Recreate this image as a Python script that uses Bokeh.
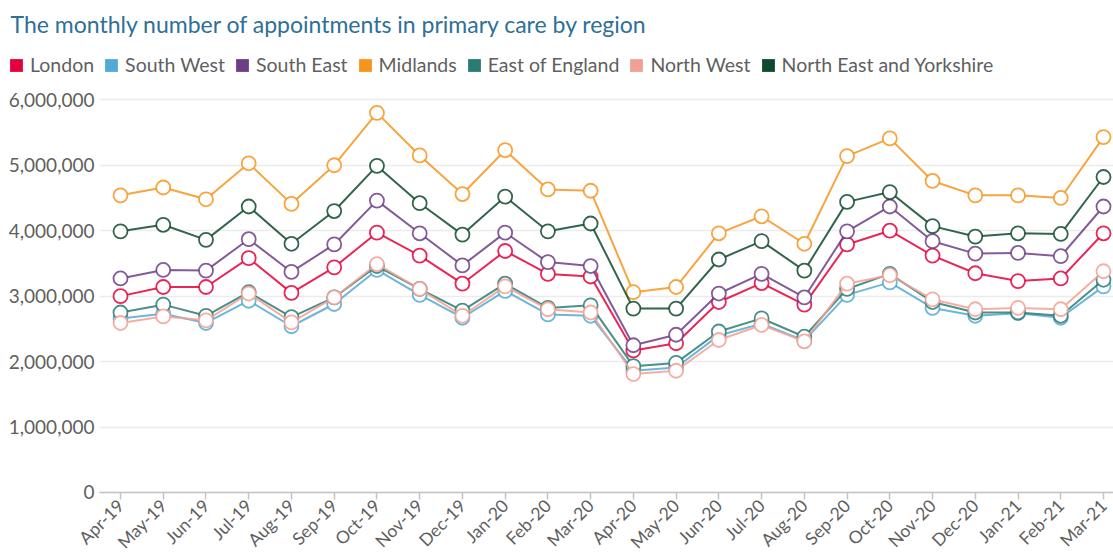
import math
from bokeh.plotting import figure
from bokeh.models import (Range1d, FixedTicker, NumeralTickFormatter, Legend, LegendItem,
                          Label, ColumnDataSource, Grid)
from bokeh.embed import file_html
from bokeh.resources import INLINE

months = ["Apr-19", "May-19", "Jun-19", "Jul-19", "Aug-19", "Sep-19", "Oct-19", "Nov-19",
          "Dec-19", "Jan-20", "Feb-20", "Mar-20", "Apr-20", "May-20", "Jun-20", "Jul-20",
          "Aug-20", "Sep-20", "Oct-20", "Nov-20", "Dec-20", "Jan-21", "Feb-21", "Mar-21"]

# values in millions of appointments
london = [3.00, 3.14, 3.14, 3.58, 3.05, 3.44, 3.97, 3.62, 3.19, 3.69, 3.34, 3.30,
          2.17, 2.28, 2.91, 3.20, 2.87, 3.79, 4.00, 3.62, 3.35, 3.23, 3.27, 3.96]
south_west = [2.66, 2.73, 2.59, 2.93, 2.54, 2.88, 3.40, 3.02, 2.67, 3.08, 2.72, 2.70,
              1.86, 1.91, 2.40, 2.58, 2.32, 3.02, 3.21, 2.82, 2.70, 2.74, 2.67, 3.15]
south_east = [3.27, 3.40, 3.39, 3.87, 3.37, 3.79, 4.46, 3.96, 3.47, 3.97, 3.52, 3.46,
              2.25, 2.41, 3.04, 3.34, 2.98, 3.99, 4.37, 3.84, 3.65, 3.66, 3.61, 4.37]
midlands = [4.54, 4.66, 4.48, 5.03, 4.41, 5.00, 5.80, 5.15, 4.56, 5.23, 4.63, 4.61,
            3.06, 3.14, 3.96, 4.22, 3.80, 5.14, 5.41, 4.76, 4.54, 4.54, 4.50, 5.43]
east_of_england = [2.75, 2.87, 2.70, 3.06, 2.68, 2.98, 3.46, 3.11, 2.78, 3.19, 2.82, 2.86,
                   1.93, 1.98, 2.46, 2.66, 2.38, 3.11, 3.34, 2.91, 2.75, 2.75, 2.70, 3.25]
north_west = [2.59, 2.69, 2.63, 3.04, 2.60, 2.98, 3.49, 3.11, 2.70, 3.15, 2.80, 2.75,
              1.81, 1.86, 2.33, 2.56, 2.31, 3.19, 3.32, 2.95, 2.80, 2.82, 2.80, 3.38]
north_east_yorks = [3.99, 4.09, 3.86, 4.37, 3.80, 4.30, 4.99, 4.42, 3.94, 4.52, 3.99, 4.11,
                    2.81, 2.81, 3.56, 3.84, 3.39, 4.44, 4.59, 4.07, 3.91, 3.96, 3.95, 4.82]

regions = ["London", "South West", "South East", "Midlands", "East of England",
           "North West", "North East and Yorkshire"]
series = [london, south_west, south_east, midlands, east_of_england, north_west, north_east_yorks]
colors = ["#E4003B", "#52A9D3", "#6E3D87", "#F7941D", "#2A7B74", "#F2A093", "#0F4A2E"]
y_ticks = [0, 1e6, 2e6, 3e6, 4e6, 5e6, 6e6]
title_text = "The monthly number of appointments in primary care by region"

FONT = "Lato"
TEXT = "#5f5f5f"
W, H = 1113, 553
X0, X1 = -0.491, 23.234          # extent of the chart body in x

p = figure(width=W, height=H, x_range=Range1d(-2.808, X1), y_range=Range1d(-0.932e6, 7.517e6),
           min_border=0, toolbar_location=None, output_backend="svg")
p.outline_line_color = None
p.xgrid.visible = False
p.ygrid.grid_line_color = "#ececec"
p.ygrid.grid_line_width = 1.5
p.ygrid.ticker = FixedTicker(ticks=y_ticks)
if "cross_bounds" in Grid.properties():
    p.ygrid.cross_bounds = (X0, X1)

x = list(range(len(months)))
for name, vals, c in zip(regions, series, colors):
    src = ColumnDataSource(dict(x=x, y=[v * 1e6 for v in vals]))
    p.line("x", "y", source=src, line_color=c, line_width=2, line_alpha=0.85)
    p.scatter("x", "y", source=src, size=14, fill_color="white", line_color=c,
              line_width=1.8, line_alpha=0.85)

# title
p.add_layout(Label(x=10, y=H - 23, x_units="screen", y_units="screen", text=title_text,
                   text_baseline="middle", text_font_size="23px", text_color="#2E7096",
                   text_font=FONT))

# legend with square swatches
nan = float("nan")
items = []
for name, c in zip(regions, colors):
    r = p.quad(left=[nan], right=[nan], top=[nan], bottom=[nan], fill_color=c, line_color=None)
    items.append(LegendItem(label=name, renderers=[r]))
leg = Legend(items=items, orientation="horizontal", location=(8, H - 76),
             margin=0, padding=0, spacing=9, label_standoff=6, glyph_width=16, glyph_height=16,
             label_text_font_size="19.5px", label_text_color=TEXT, label_text_font=FONT,
             border_line_color=None, background_fill_alpha=0)
p.add_layout(leg)

# y axis drawn at the left edge of the chart body
p.yaxis.fixed_location = X0
p.yaxis.bounds = (0, 6e6)
p.yaxis.ticker = FixedTicker(ticks=y_ticks)
p.yaxis.formatter = NumeralTickFormatter(format="0,0")
p.yaxis.axis_line_color = None
p.yaxis.major_tick_line_color = None
p.yaxis.major_tick_out = 0
p.yaxis.major_tick_in = 0
p.yaxis.minor_tick_line_color = None
p.yaxis.major_label_standoff = 5
p.yaxis.major_label_text_font_size = "19px"
p.yaxis.major_label_text_color = TEXT
p.yaxis.major_label_text_font = FONT

# x axis along zero
p.xaxis.fixed_location = 0
p.xaxis.bounds = (X0, X1)
p.xaxis.ticker = FixedTicker(ticks=x)
p.xaxis.major_label_overrides = {i: m for i, m in enumerate(months)}
p.xaxis.major_label_orientation = math.pi / 4
p.xaxis.axis_line_color = "#c4c4c4"
p.xaxis.axis_line_width = 1.5
p.xaxis.major_tick_line_color = "#c4c4c4"
p.xaxis.major_tick_line_width = 1.5
p.xaxis.major_tick_in = 0
p.xaxis.major_tick_out = 7
p.xaxis.minor_tick_line_color = None
p.xaxis.major_label_standoff = 3
p.xaxis.major_label_text_font_size = "17.5px"
p.xaxis.major_label_text_color = TEXT
p.xaxis.major_label_text_font = FONT

open("out.html", "w").write(file_html(p, INLINE))
